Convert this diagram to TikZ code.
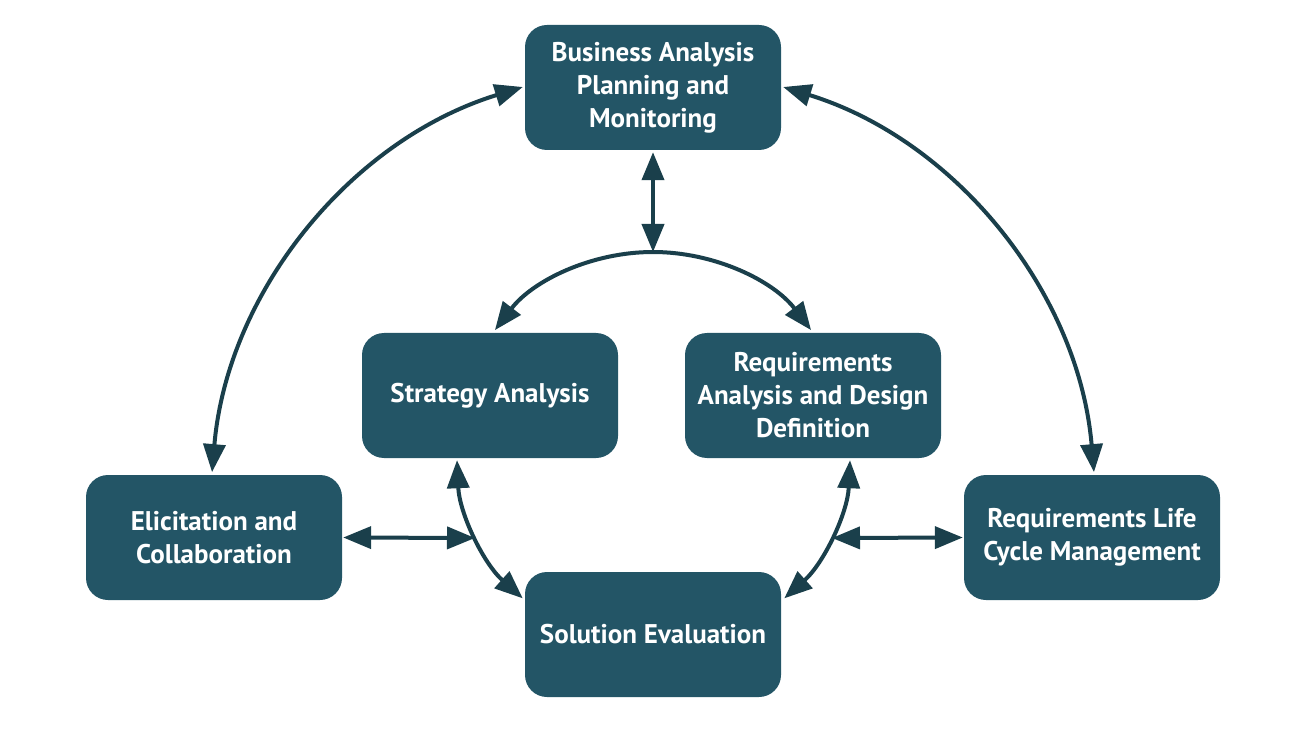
\documentclass[tikz,border=0pt]{standalone}
\usepackage{fontspec}
\setmainfont{PT Sans}
\usetikzlibrary{arrows.meta}
\definecolor{boxfill}{HTML}{235566}
\definecolor{arrowcol}{HTML}{1A3F4B}
\begin{document}
\begin{tikzpicture}[x=1pt,y=1pt,
  ka/.style={draw=none,fill=boxfill,rounded corners=22pt,minimum width=256pt,minimum height=125pt,
    text=white,font=\fontsize{27}{33}\selectfont\bfseries,align=center,inner sep=0pt},
  conn/.style={draw=arrowcol,line width=4pt,{Triangle[length=28pt,width=22pt]}-{Triangle[length=28pt,width=22pt]}},
  conn1/.style={draw=arrowcol,line width=4pt,-{Triangle[length=28pt,width=22pt]}}]
\useasboundingbox (0,0) rectangle (1289,729);
\node[ka] (top) at (653,641.5) {Business Analysis\\Planning and\\Monitoring};
\node[ka] (strat) at (490,333.5) {Strategy Analysis};
\node[ka] (req) at (813,333.5) {Requirements\\Analysis and Design\\Definition};
\node[ka] (elic) at (214,191.5) {Elicitation and\\Collaboration};
\node[ka] (life) at (1092,191.5) {Requirements Life\\Cycle Management};
\node[ka] (sol) at (653,94.5) {Solution Evaluation};
% inner circle centre (653,278), outer circle centre (653,218)
\coordinate (arctop) at (653,477);
\coordinate (lefthub) at (475,191);
\coordinate (righthub) at (832,191);
\draw[conn] ([yshift=-2pt]top.south) -- (arctop);
\draw[conn1] (arctop) arc[start angle=90,end angle=142.6,radius=199];
\draw[conn1] (arctop) arc[start angle=90,end angle=37.4,radius=199];
\draw[conn] ([xshift=-33pt,yshift=-2pt]strat.south) arc[start angle=182.6,end angle=228.3,radius=197];
\draw[conn] ([xshift=37pt,yshift=-2pt]req.south) arc[start angle=357.4,end angle=311.7,radius=197];
\draw[conn] ([xshift=-2pt,yshift=0.5pt]top.west) arc[start angle=107.1,end angle=175.1,radius=442.5];
\draw[conn] ([xshift=2pt,yshift=0.5pt]top.east) arc[start angle=72.9,end angle=4.9,radius=442.5];
\draw[conn] ([xshift=1pt]elic.east) -- (lefthub);
\draw[conn] (righthub) -- ([xshift=-1pt]life.west);
\end{tikzpicture}
\end{document}
